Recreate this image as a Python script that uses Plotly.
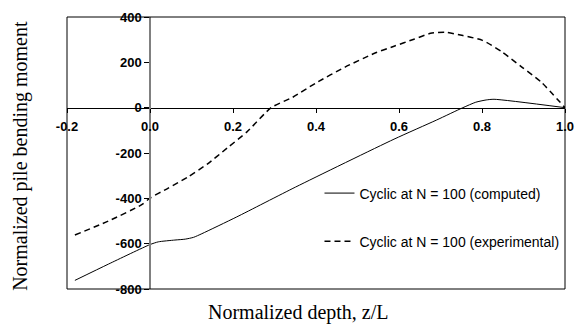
import plotly.graph_objects as go

# Computed curve (solid)
x_computed = [-0.181, -0.1, 0.0, 0.02, 0.06, 0.085, 0.105, 0.125, 0.209, 0.351, 0.588, 0.69, 0.754, 0.785, 0.81, 0.829, 1.0]
y_computed = [-762, -690, -604, -592, -584, -580, -572, -556, -482, -350, -139, -55, 0, 24, 34, 37, 0]

# Experimental curve (dashed)
x_exp = [-0.181, -0.1, -0.02, 0.0, 0.044, 0.091, 0.138, 0.186, 0.233, 0.292, 0.344, 0.399,
         0.470, 0.541, 0.588, 0.636, 0.676, 0.711, 0.754, 0.801, 0.849, 0.896, 0.943, 1.0]
y_exp = [-562, -500, -428, -399, -355, -306, -249, -178, -108, 0, 46, 108,
         179, 240, 271, 302, 328, 333, 318, 297, 245, 179, 112, 0]

x_ticks = [-0.2, 0.0, 0.2, 0.4, 0.6, 0.8, 1.0]
x_ticktext = ["-0.2", "0.0", "0.2", "0.4", "0.6", "0.8", "1.0"]
y_ticks = [-800, -600, -400, -200, 0, 200, 400]
y_ticktext = ["-800", "-600", "-400", "-200", "0", "200", "400"]

name_computed = "Cyclic at N = 100 (computed)"
name_exp = "Cyclic at N = 100 (experimental)"

tick_font = dict(family="Arial, Liberation Sans, sans-serif", size=13, color="black", weight="bold")
title_font = dict(family="Times New Roman, Liberation Serif, serif", size=20, color="black")

fig = go.Figure()
fig.add_trace(go.Scatter(x=x_computed, y=y_computed, mode="lines", name=name_computed,
                         legendgroup="a",
                         line=dict(color="black", width=1, shape="spline", smoothing=0.6)))
fig.add_trace(go.Scatter(x=x_exp, y=y_exp, mode="lines", name=name_exp,
                         legendgroup="b",
                         line=dict(color="black", width=1.5, dash="6px,4px", shape="spline", smoothing=0.6)))

fig.update_layout(
    width=584, height=325,
    margin=dict(l=67, r=10, t=17, b=36),
    plot_bgcolor="white", paper_bgcolor="white",
    showlegend=True,
    legend=dict(x=0.507, xanchor="left", y=0.41, yanchor="top",
                font=dict(family="Arial, Liberation Sans, sans-serif", size=14, color="black"),
                tracegroupgap=27, bgcolor="rgba(0,0,0,0)", itemwidth=30),
    xaxis=dict(range=[-0.2, 1.0], tickvals=x_ticks, ticktext=x_ticktext,
               anchor="free", position=2/3, showline=True, linecolor="black", linewidth=1,
               ticks="outside", ticklen=4, tickcolor="black", showgrid=False, zeroline=False,
               tickfont=tick_font, ticklabelstandoff=3),
    yaxis=dict(range=[-800, 400], tickvals=y_ticks, ticktext=y_ticktext,
               anchor="free", position=1/6, showline=True, linecolor="#808080", linewidth=1.5,
               ticks="outside", ticklen=5, tickcolor="black", showgrid=False, zeroline=False,
               tickfont=tick_font),
    shapes=[dict(type="rect", xref="paper", yref="paper", x0=0, x1=1, y0=0, y1=1,
                 line=dict(color="black", width=1), layer="above")],
    annotations=[
        dict(text="Normalized depth, z/L", xref="paper", yref="paper",
             x=(303 - 67) / 507, y=(289 - 312) / 272, xanchor="center", yanchor="middle",
             showarrow=False, font=title_font),
        dict(text="Normalized pile bending moment", xref="paper", yref="paper",
             x=(19 - 67) / 507, y=(289 - 156) / 272, xanchor="center", yanchor="middle",
             textangle=-90, showarrow=False, font=title_font),
    ],
)

fig.write_html("out.html")
